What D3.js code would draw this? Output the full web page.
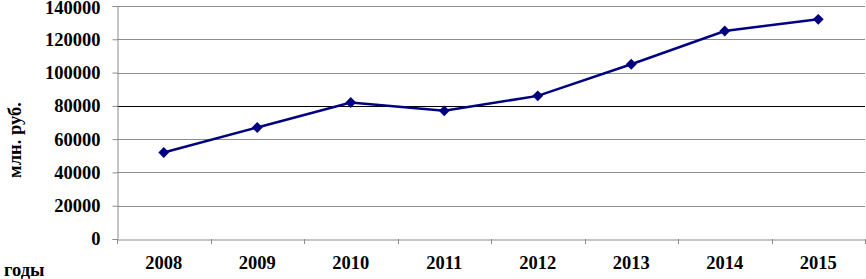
<!DOCTYPE html>
<html><head><meta charset="utf-8">
<script src="https://cdn.jsdelivr.net/npm/d3@7"></script>
<style>body{margin:0;background:#fff}svg{display:block}</style>
</head><body>
<svg id="c" width="866" height="279"></svg>
<script>
const years = ["2008","2009","2010","2011","2012","2013","2014","2015"];
const values = [52000, 67000, 82000, 77000, 86000, 105000, 125000, 132000];
const yTicks = [0,20000,40000,60000,80000,100000,120000,140000];
const yLabel = "млн. руб.";
const xLabel = "годы";

(function () {
const svg = d3.select("#c");
const mLeft = 117, mRight = 865, mTop = 6, mBottom = 239;
const font = "'Liberation Serif','Times New Roman',serif";

const x = d3.scaleBand().domain(years).range([mLeft, mRight]);
const y = d3.scaleLinear().domain([0, 140000]).range([mBottom, mTop]);

// gridlines
svg.append("g").selectAll("line").data(yTicks.filter(d => d > 0)).join("line")
  .attr("x1", mLeft).attr("x2", mRight)
  .attr("y1", d => Math.round(y(d)) + 0.5).attr("y2", d => Math.round(y(d)) + 0.5)
  .attr("stroke", d => d === 80000 ? "#000" : "#8c8c8c").attr("stroke-width", 1);

// y axis
const ya = svg.append("g").attr("transform", `translate(${mLeft + 0.5},0)`)
  .call(d3.axisLeft(y).tickValues(yTicks).tickFormat(d3.format("d")).tickSize(5).tickPadding(12));
ya.select(".domain").attr("stroke", "#8c8c8c");
ya.selectAll(".tick line").attr("stroke", "#8c8c8c");
ya.selectAll(".tick text").attr("font-family", font).attr("font-weight", "bold")
  .attr("font-size", 18.5).attr("fill", "#000")
  .attr("dy", d => d === 140000 ? "0.42em" : "0.32em");

// x axis
const xa = svg.append("g").attr("transform", `translate(0,${mBottom + 0.5})`)
  .call(d3.axisBottom(x).tickSize(0).tickPadding(16));
xa.select(".domain").attr("stroke", "#8c8c8c");
xa.selectAll(".tick text").attr("font-family", font).attr("font-weight", "bold")
  .attr("font-size", 18.5).attr("fill", "#000");
// tick marks at band boundaries
svg.append("g").selectAll("line").data(years.concat(["end"])).join("line")
  .attr("x1", (d, i) => Math.round(mLeft + i * x.bandwidth()) + 0.5)
  .attr("x2", (d, i) => Math.round(mLeft + i * x.bandwidth()) + 0.5)
  .attr("y1", mBottom).attr("y2", mBottom + 5)
  .attr("stroke", "#8c8c8c");

// line
const line = d3.line().x((d, i) => x(years[i]) + x.bandwidth() / 2).y(d => y(d));
svg.append("path").datum(values).attr("d", line)
  .attr("fill", "none").attr("stroke", "#000080").attr("stroke-width", 2.5);

// markers
svg.append("g").selectAll("path").data(values).join("path")
  .attr("d", d3.symbol().type(d3.symbolDiamond2).size(75))
  .attr("transform", (d, i) => `translate(${x(years[i]) + x.bandwidth() / 2},${y(d)})`)
  .attr("fill", "#000080");

// axis labels
svg.append("text").attr("transform", "translate(21,140) rotate(-90)")
  .attr("text-anchor", "middle").attr("font-family", font).attr("font-weight", "bold")
  .attr("font-size", 18.5).text(yLabel);
svg.append("text").attr("x", 4).attr("y", 276)
  .attr("font-family", font).attr("font-weight", "bold")
  .attr("font-size", 18.5).text(xLabel);
})();
</script>
</body></html>
